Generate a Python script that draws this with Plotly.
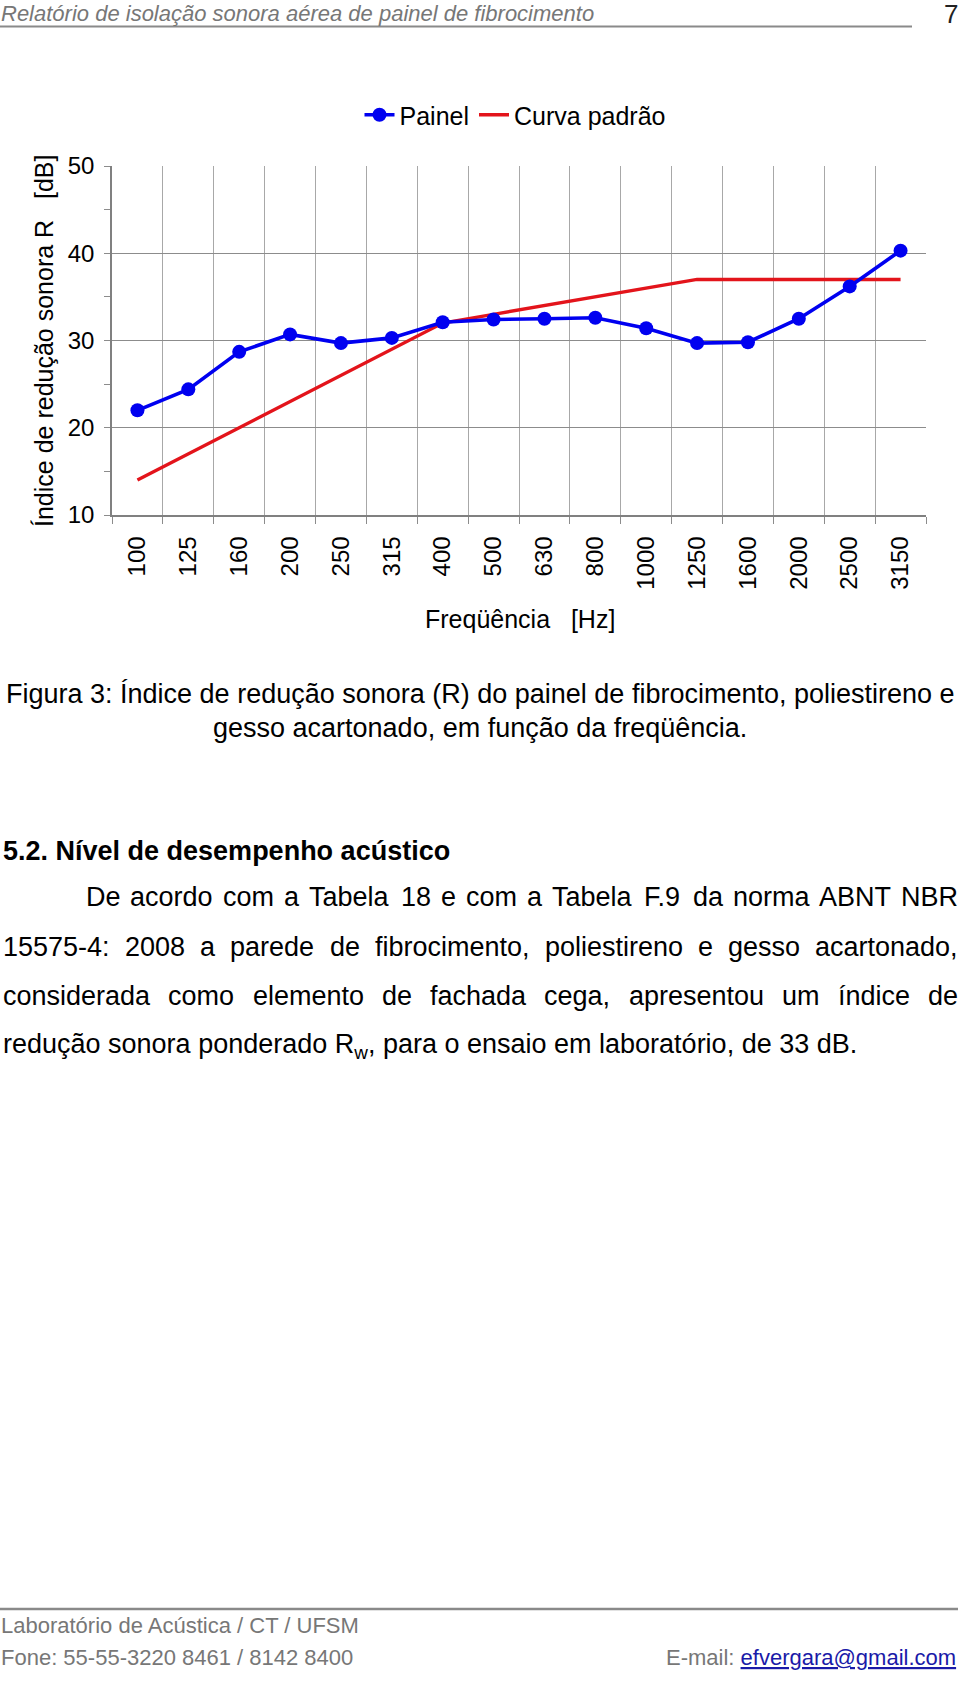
import plotly.graph_objects as go

# ---------------- data ----------------
freqs = ["100", "125", "160", "200", "250", "315", "400", "500",
         "630", "800", "1000", "1250", "1600", "2000", "2500", "3150"]
painel = [22.0, 24.4, 28.7, 30.7, 29.7, 30.3, 32.1, 32.4,
          32.5, 32.6, 31.4, 29.7, 29.8, 32.5, 36.2, 40.3]
curva_padrao = [14, 17, 20, 23, 26, 29, 32, 33,
                34, 35, 36, 37, 37, 37, 37, 37]
y_tickvals = [10, 20, 30, 40, 50]

header_text = "Relatório de isolação sonora aérea de painel de fibrocimento"
page_number = "7"
caption_lines = [
    "Figura 3: Índice de redução sonora (R) do painel de fibrocimento, poliestireno e",
    "gesso acartonado, em função da freqüência.",
]
heading_text = "5.2. Nível de desempenho acústico"
para_lines = [
    "De acordo com a Tabela 18 e com a Tabela F.9 da norma ABNT NBR",
    "15575-4: 2008 a parede de fibrocimento, poliestireno e gesso acartonado,",
    "considerada como elemento de fachada cega, apresentou um índice de",
]
para_last = "redução sonora ponderado R<sub>w</sub>, para o ensaio em laboratório, de 33 dB."
footer_l1 = "Laboratório de Acústica / CT / UFSM"
footer_l2 = "Fone: 55-55-3220 8461 / 8142 8400"
footer_mail = "efvergara@gmail.com"

# ---------------- layout helpers ----------------
W, H = 960, 1682
L, R, T, B = 112, 926, 166, 515
FONT = "Liberation Sans, Arial, sans-serif"


def px(x):
    return (x - L) / (R - L)


def py(y):
    return (B - y) / (B - T)


AW = {' ': 278, 'a': 556, 'b': 556, 'c': 500, 'd': 556, 'e': 556, 'f': 278, 'g': 556,
      'h': 556, 'i': 222, 'j': 222, 'k': 500, 'l': 222, 'm': 833, 'n': 556, 'o': 556,
      'p': 556, 'q': 556, 'r': 333, 's': 500, 't': 278, 'u': 556, 'v': 500, 'w': 722,
      'x': 500, 'y': 500, 'z': 500, 'A': 667, 'B': 667, 'C': 722, 'D': 722, 'E': 667,
      'F': 611, 'G': 778, 'H': 722, 'I': 278, 'J': 500, 'K': 667, 'L': 556, 'M': 833,
      'N': 722, 'O': 778, 'P': 667, 'Q': 778, 'R': 722, 'S': 667, 'T': 611, 'U': 722,
      'V': 667, 'W': 944, 'X': 667, 'Y': 667, 'Z': 611, '.': 278, ',': 278, ':': 278,
      '-': 333, '(': 333, ')': 333, '/': 278, 'á': 556, 'ã': 556, 'â': 556, 'é': 556,
      'ê': 556, 'í': 278, 'ó': 556, 'ô': 556, 'õ': 556, 'ú': 556, 'ü': 556, 'ç': 500,
      'Í': 278}
for d in "0123456789":
    AW[d] = 556


def tw(s, size):
    return sum(AW.get(c, 556) for c in s) * size / 1000.0


fig = go.Figure()
fig.add_trace(go.Scatter(
    x=freqs, y=curva_padrao, mode="lines", name="Curva padrão",
    line=dict(color="#e3141b", width=3.4), legendrank=2))
fig.add_trace(go.Scatter(
    x=freqs, y=painel, mode="lines+markers", name="Painel",
    line=dict(color="#0000f0", width=3.6),
    marker=dict(color="#0000f0", size=14, symbol="circle"), legendrank=1))

ann = []


def add_text(text, x, y, size, color="#000000", family=FONT, xanchor="left",
             yanchor="middle", angle=0):
    ann.append(dict(text=text, x=px(x), y=py(y), xref="paper", yref="paper",
                    xanchor=xanchor, yanchor=yanchor, showarrow=False,
                    textangle=angle, borderpad=0,
                    font=dict(family=family, size=size, color=color)))


# header
add_text("<i>" + header_text + "</i>", 0, 13, 22, "#777777")
add_text(page_number, 959, 14, 26, "#222222", xanchor="right")

# axis titles
add_text("Índice de redução sonora R\u00a0\u00a0\u00a0[dB]", 44, 341, 25, angle=-90,
         xanchor="center")
add_text("Freqüência\u00a0\u00a0\u00a0[Hz]", 520, 619, 25, xanchor="center")

# caption
cap_y = [694, 728]
for line, yy in zip(caption_lines, cap_y):
    add_text(line, 480, yy, 27, xanchor="center")

# heading
add_text("<b>" + heading_text + "</b>", 2, 851, 27)

# justified paragraph
PS = 27
para_x0 = [85, 2, 2]
para_y = [897, 947, 996]
RIGHT = 957
for line, x0, yy in zip(para_lines, para_x0, para_y):
    words = line.split(" ")
    widths = [tw(w_, PS) for w_ in words]
    gap = (RIGHT - x0 - sum(widths)) / (len(words) - 1)
    xx = x0
    for w_, ww in zip(words, widths):
        add_text(w_, xx, yy, PS)
        xx += ww + gap
add_text(para_last, 2, 1046, PS)

# footer
add_text(footer_l1, 0, 1626, 22, "#777777")
add_text(footer_l2, 0, 1658, 22, "#777777")
add_text("E-mail: <span style='color:#1a1aa8'><u>" + footer_mail + "</u></span>",
         957, 1658, 22, "#777777", xanchor="right")

shapes = [
    dict(type="line", xref="paper", yref="paper", x0=px(0), x1=px(912),
         y0=py(26.5), y1=py(26.5), line=dict(color="#8a8a8a", width=2)),
    dict(type="line", xref="paper", yref="paper", x0=px(0), x1=px(958),
         y0=py(1609), y1=py(1609), line=dict(color="#8a8a8a", width=2.5)),
]

fig.update_layout(
    width=W, height=H,
    margin=dict(l=L, r=W - R, t=T, b=H - B, pad=0),
    paper_bgcolor="white", plot_bgcolor="white",
    font=dict(family=FONT, size=24, color="#000000"),
    showlegend=True,
    legend=dict(orientation="h", x=px(515), xanchor="center", y=py(115),
                yanchor="middle", font=dict(size=25, family=FONT),
                bgcolor="rgba(0,0,0,0)", itemwidth=30),
    annotations=ann, shapes=shapes,
    xaxis=dict(type="category", categoryorder="array", categoryarray=freqs,
               range=[-0.5, len(freqs) - 0.5], tickson="boundaries",
               showgrid=True, gridcolor="#a8a8a8", gridwidth=1,
               ticks="outside", ticklen=7, tickcolor="#8c8c8c", tickwidth=1,
               tickangle=-90, tickfont=dict(size=24, family=FONT),
               showline=True, linecolor="#808080", linewidth=1.5,
               zeroline=False, ticklabelstandoff=10, fixedrange=True),
    yaxis=dict(range=[10, 50], tickmode="array", tickvals=y_tickvals,
               showgrid=True, gridcolor="#8c8c8c", gridwidth=1,
               ticks="outside", ticklen=6, tickcolor="#8c8c8c",
               minor=dict(dtick=5, tick0=0, ticks="outside", ticklen=6,
                          tickcolor="#8c8c8c", showgrid=False),
               showline=True, linecolor="#808080", linewidth=1.5,
               zeroline=False, tickfont=dict(size=24, family=FONT),
               ticklabelstandoff=5, fixedrange=True),
)

fig.write_html("out.html")
